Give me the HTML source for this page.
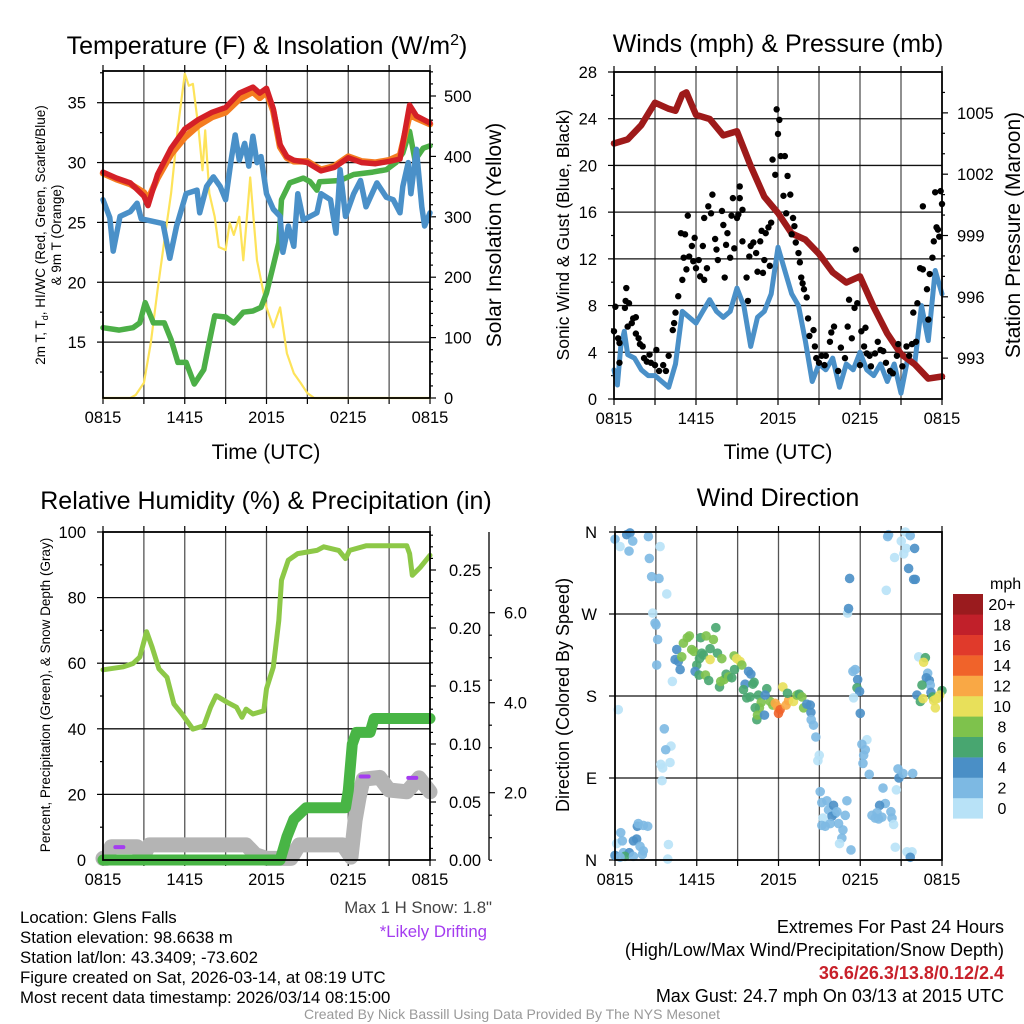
<!DOCTYPE html>
<html><head><meta charset="utf-8"><style>
html,body{margin:0;padding:0;background:#fff;}
svg{display:block;font-family:"Liberation Sans",Arial,sans-serif;}
</style></head><body>
<svg id="chart" width="1024" height="1024" viewBox="0 0 1024 1024" xmlns="http://www.w3.org/2000/svg">
<rect width="1024" height="1024" fill="#fff"/>
<text x="267" y="54" font-size="25" text-anchor="middle">Temperature (F) &amp; Insolation (W/m<tspan dy="-9" font-size="16">2</tspan><tspan dy="9">)</tspan></text>
<text x="778" y="52" font-size="25" text-anchor="middle">Winds (mph) &amp; Pressure (mb)</text>
<text x="266" y="509" font-size="25" text-anchor="middle">Relative Humidity (%) &amp; Precipitation (in)</text>
<text x="778" y="506" font-size="25" text-anchor="middle">Wind Direction</text>
<text x="266" y="459" font-size="21" text-anchor="middle">Time (UTC)</text>
<text x="778" y="459" font-size="21" text-anchor="middle">Time (UTC)</text>
<text transform="translate(45,235) rotate(-90)" font-size="13.5" text-anchor="middle">2m T, T<tspan dy="3" font-size="9">d</tspan><tspan dy="-3">, HI/WC (Red, Green, Scarlet/Blue)</tspan></text>
<text transform="translate(61,235) rotate(-90)" font-size="13.5" text-anchor="middle">&amp; 9m T (Orange)</text>
<text transform="translate(501,235) rotate(-90)" font-size="21" text-anchor="middle">Solar Insolation (Yellow)</text>
<text transform="translate(569,235) rotate(-90)" font-size="17.5" text-anchor="middle">Sonic Wind &amp; Gust (Blue, Black)</text>
<text transform="translate(1020,235) rotate(-90)" font-size="21" text-anchor="middle">Station Pressure (Maroon)</text>
<text transform="translate(50,695) rotate(-90)" font-size="13.5" text-anchor="middle">Percent, Precipitation (Green), &amp; Snow Depth (Gray)</text>
<text transform="translate(569,695) rotate(-90)" font-size="18" text-anchor="middle">Direction (Colored By Speed)</text>
<text x="990" y="589" font-size="16">mph</text>
<g font-size="16.8">
<text x="20" y="923">Location: Glens Falls</text>
<text x="20" y="943">Station elevation: 98.6638 m</text>
<text x="20" y="963">Station lat/lon: 43.3409; -73.602</text>
<text x="20" y="983">Figure created on Sat, 2026-03-14, at 08:19 UTC</text>
<text x="20" y="1003">Most recent data timestamp: 2026/03/14 08:15:00</text>
</g>
<text x="492" y="913" font-size="16.8" text-anchor="end" fill="#444">Max 1 H Snow: 1.8"</text>
<text x="487" y="937" font-size="16.8" text-anchor="end" fill="#a43cf0">*Likely Drifting</text>
<g font-size="18" text-anchor="end">
<text x="1004" y="933">Extremes For Past 24 Hours</text>
<text x="1004" y="956">(High/Low/Max Wind/Precipitation/Snow Depth)</text>
<text x="1004" y="979" font-weight="bold" fill="#c8202a">36.6/26.3/13.8/0.12/2.4</text>
<text x="1004" y="1002">Max Gust: 24.7 mph On 03/13 at 2015 UTC</text>
</g>
<text x="512" y="1019" font-size="14" text-anchor="middle" fill="#999">Created By Nick Bassill Using Data Provided By The NYS Mesonet</text>
</svg>
<script>
// ---------- data ----------
const timeTickHours = [0, 6, 12, 18, 24];
const timeTickLabels = ['0815', '1415', '2015', '0215', '0815'];

const tempHours = [0,1,2,3,3.3,4,5,6,7,8,9,10,11,11.5,12,12.5,13,13.5,14,15,16,17,18,19,20,21,21.8,22.5,23,24];
const tempRed = [29.2,28.7,28.3,27.2,26.4,29.0,31.2,32.8,33.6,34.2,34.6,35.8,36.3,35.8,36.2,34.5,31.5,30.5,30.2,30.0,29.3,29.6,30.4,30.0,29.9,30.1,30.3,34.8,33.9,33.3];
const tempOrange = [29.1,28.6,28.2,27.5,26.9,28.7,30.7,32.1,33.1,33.8,34.2,35.3,35.9,35.4,35.9,34.3,31.3,30.4,30.1,30.1,29.4,29.7,30.5,30.1,30.0,30.2,30.6,34.0,33.7,33.2];
const hiwcHours = [0,0.5,0.75,1.25,2,2.5,2.8,4.4,4.9,5.4,6.1,6.9,7.1,7.6,8.1,8.6,9.0,9.4,9.7,10.0,10.4,10.7,11.0,11.3,11.6,12.0,12.5,13.0,13.2,13.6,14.0,14.3,14.7,15.7,16.0,16.7,17.1,17.4,17.8,18.4,18.9,19.3,20.1,20.8,21.3,21.8,22.0,22.4,22.6,23.0,23.4,23.6,24];
const hiwcValues = [26.9,25.4,22.6,25.5,25.9,26.6,25.3,24.9,22.0,24.7,27.4,27.7,25.8,28.0,28.8,28.0,26.9,30.2,32.3,30.2,31.6,29.7,32.2,30.0,30.5,27.4,26.1,25.5,22.5,24.7,23.0,27.4,25.2,25.8,27.4,26.9,24.1,29.4,25.5,27.4,28.5,26.3,28.3,27.1,26.9,25.8,28.0,30.0,27.4,31.1,26.3,24.7,25.8];
const dewHours = [0,1.2,2.2,2.7,3.1,3.7,4.5,5.0,5.5,6.1,6.7,7.4,7.8,8.2,9.0,9.6,10.3,11.0,11.6,12.0,12.5,12.9,13.1,13.7,14.7,15.2,15.7,15.9,17.4,18.4,19.8,20.8,21.5,22.0,22.5,22.9,23.5,24];
const dewValues = [16.2,16.0,16.2,16.6,18.3,16.6,16.6,15.2,13.3,13.3,11.5,12.7,15.0,17.2,17.1,16.6,17.5,17.6,17.9,19.1,21.4,23.3,26.9,28.3,28.7,28.4,27.7,28.4,28.5,29.0,29.2,29.4,30.0,30.8,32.6,30.2,31.2,31.4];
const solarHours = [0,2,2.4,3,3.5,4,4.5,5,5.5,6,6.3,6.6,7,7.3,7.5,7.8,8.2,8.5,9,9.3,9.6,10,10.3,10.8,11.3,12,12.5,13,13.5,14,14.5,15,15.5,24];
const solarValues = [0,0,5,25,90,178,260,339,448,537,517,520,448,377,443,339,300,250,245,290,270,300,228,365,228,150,117,150,74,41,25,8,0,0];

const pressHours = [0,1,2,3,4,4.5,5,5.3,6,7,8,9,10,11,12,13,14,15,16,17,18,19,20,21,22,23,24];
const pressValues = [1003.5,1003.7,1004.4,1005.5,1005.2,1005.1,1005.9,1006.0,1004.9,1004.7,1003.9,1004.1,1002.4,1000.9,1000.1,999.1,998.8,998.1,997.2,996.7,997.0,995.5,994.2,993.2,992.7,992.0,992.1];
const windHours = [0,0.25,0.5,0.75,1,1.5,2,2.5,3,3.5,4,4.5,5,5.5,6,6.5,7,7.5,8,8.5,9,9.5,10,10.5,11,11.5,12,12.5,13,13.5,14,14.5,15,15.5,16,16.5,17,17.5,18,18.5,19,19.5,20,20.5,21,21.5,22,22.5,23,23.5,24];
const windValues = [2.5,1.2,4.5,5.8,3.8,3.5,2.5,2.0,2.0,1.5,1.0,3.0,7.5,7.0,6.5,7.5,8.5,7.5,7.0,7.5,9.5,8.0,4.5,7.0,7.5,9.0,13.0,11.0,9.0,8.0,5.0,1.5,3.0,2.5,3.5,1.0,3.0,2.5,4.0,2.5,2.0,3.0,1.5,3.0,0.5,3.5,3.0,8.0,5.0,11.0,9.0];
const gustHours = [0,0.1,0.3,0.4,0.4,0.8,0.85,0.9,1.1,1.0,1.3,1.4,1.6,1.6,1.8,1.9,2.1,2.2,2.4,2.6,2.7,3.0,3.1,3.3,3.6,3.8,4.0,4.3,4.4,4.5,4.7,4.9,5.0,5.1,5.2,5.3,5.4,5.5,5.7,5.8,5.9,6.0,6.2,6.3,6.5,6.6,6.6,6.8,6.9,7.1,7.2,7.4,7.5,7.6,7.9,8.0,8.1,8.2,8.3,8.5,8.6,8.7,8.8,9.0,9.1,9.2,9.2,9.4,9.4,9.7,9.8,9.9,10.0,10.2,10.4,10.5,10.7,10.8,10.9,11.0,11.1,11.3,11.4,11.5,11.6,11.8,11.9,12.0,12.1,12.2,12.4,12.5,12.6,12.7,12.9,13.0,13.1,13.2,13.3,13.5,13.6,13.7,13.8,13.9,14.1,14.2,14.3,14.6,14.7,14.8,15.0,15.2,15.4,15.5,15.8,15.9,16.1,16.4,16.6,16.9,17.1,17.2,17.4,17.6,17.7,17.8,18.0,18.1,18.3,18.4,18.5,18.7,18.8,19.1,19.3,19.5,19.7,19.9,20.2,20.4,20.7,20.8,21.1,21.4,21.6,21.8,21.9,22.1,22.2,22.4,22.6,22.6,22.9,23.0,23.1,23.3,23.4,23.5,23.6,23.7,23.8,24.0,23.9];
const gustValues = [5.8,7.9,5.2,4.8,3.1,7.8,8.4,9.5,8.2,6.2,6.5,6.9,5.6,7.0,5.2,4.7,4.5,3.5,3.2,3.8,3.1,2.9,4.2,2.4,2.9,2.4,3.7,5.9,6.5,7.4,8.8,14.2,10.2,12.1,14.1,11.1,15.7,12.2,13.1,11.8,13.8,11.2,11.9,10.5,13.1,10.2,15.5,11.2,16.5,15.9,17.5,13.7,12.8,11.9,16.1,14.9,10.4,13.2,14.2,12.1,15.7,17.2,12.9,15.5,15.8,17.2,18.2,16.2,13.5,10.4,8.4,12.2,13.1,13.4,12.5,10.9,13.5,14.4,10.8,11.9,14.2,14.7,11.4,15.1,20.5,19.2,24.8,22.7,23.9,20.8,17.4,20.8,15.9,19.1,17.5,14.1,15.5,14.8,13.4,12.5,11.7,10.4,9.9,9.4,8.7,6.9,5.4,5.9,4.5,3.5,3.1,3.7,2.9,3.7,4.9,5.7,6.2,2.4,4.4,3.5,6.2,8.5,5.2,7.8,12.8,8.2,2.9,5.8,4.5,6.1,3.9,3.7,2.8,3.9,4.9,4.2,4.1,3.1,2.4,2.2,3.7,4.7,2.8,4.5,3.7,4.7,7.4,4.9,8.2,11.2,16.5,11.1,9.4,6.8,10.7,12.1,13.5,17.7,14.7,14.5,13.9,16.7,17.8];

const rhHours = [0,1.5,2.2,2.7,3.2,3.6,4.1,4.7,5.2,5.8,6.6,7.4,7.9,8.3,9.1,9.8,10.2,10.5,11.0,11.8,12.0,12.5,12.9,13.1,13.6,14.3,15.7,16.2,17.3,17.8,18.1,19.3,22.3,22.5,22.7,23.3,24];
const rhValues = [58,58.9,59.9,61.9,69.6,64.9,58.3,55.7,47.6,44.5,39.9,40.9,46.6,50.1,48.1,46.6,43.5,46,44.5,45.5,52.2,58.8,73,85.3,91.4,93.4,94.4,95.5,94.4,91.9,94.4,95.8,95.8,93.4,86.8,89.3,92.9];
const precipHours = [0,13,13.5,14,14.9,17.8,18.0,18.3,18.6,19.6,19.9,24];
const precipValues = [0,0,0.02,0.035,0.045,0.045,0.06,0.10,0.11,0.11,0.122,0.122];
const snowHours = [0,0.3,0.6,2.5,2.7,3.1,3.4,10.5,11.2,12,13.8,14.4,17.6,18.2,18.5,18.8,19.1,20.3,21,22.3,23.2,24];
const snowValues = [0.54,0.54,0.8,0.8,0.67,0.67,0.84,0.84,0.62,0.54,0.54,0.84,0.84,0.57,1.39,1.91,2.3,2.34,2.06,2.02,2.33,2.02];
const driftHours = [1.2,19.2,22.7];
const driftValues = [0.79,2.36,2.33];

const dirHours = [0,0.37,0.86,1.10,1.30,1.03,2.45,3.31,2.52,2.69,3.23,3.80,2.77,2.94,3.01,3.13,3.06,4.21,0.24,3.62,4.11,3.72,3.36,3.50,4.04,3.45,3.92,3.87,0.42,0.12,0.54,1.35,1.59,1.64,1.71,2.08,2.40,1.84,2.08,2.01,0.61,1.05,0.0,0.73,0.37,1.35,
4.53,4.41,4.65,4.78,4.90,5.02,5.31,5.46,5.63,5.80,6.00,6.20,5.88,6.29,6.37,6.49,6.17,6.69,6.98,7.22,7.40,7.52,7.84,6.98,6.64,6.88,7.67,7.76,8.01,8.16,8.33,8.57,8.74,8.94,9.18,9.31,8.77,9.80,9.97,9.55,9.43,10.12,10.21,9.67,9.92,10.53,10.73,11.14,11.39,11.58,10.60,10.29,10.41,10.46,10.97,11.02,11.76,11.93,12.12,12.00,12.32,12.56,12.74,12.66,13.10,13.35,13.52,13.72,13.84,14.08,14.33,14.38,14.40,14.57,14.74,14.99,14.89,
15.06,15.18,15.55,15.67,16.04,16.16,15.92,16.29,16.90,17.02,16.73,15.26,15.18,15.43,15.80,16.41,16.65,16.48,17.32,17.07,17.14,17.22,17.46,17.63,17.81,17.76,17.95,17.51,18.00,18.49,18.12,18.37,18.25,18.20,18.66,19.67,19.84,19.42,19.23,18.86,19.10,19.35,19.59,20.25,20.33,20.45,20.65,20.84,20.77,21.14,21.85,20.57,20.01,20.08,21.31,21.67,21.01,21.38,21.19,20.52,21.99,21.55,21.92,22.04,19.91,21.43,21.80,21.67,
22.29,22.78,22.65,22.95,22.85,23.07,23.14,22.53,23.19,22.16,22.41,22.61,23.32,23.51,23.63,24.00,23.83,23.51,23.39];
const dirValues = [352,344,357,359,350,339,355,344,331,311,309,292,271,260,258,242,214,196,165,144,125,121,105,101,107,87,17,1,30,18,21,21,23,37,40,38,37,15,10,6,8,8,5,4,3,4,
231,220,218,209,223,238,244,246,231,229,214,221,207,244,227,225,203,246,232,242,255,227,221,220,203,197,190,196,198,204,201,200,224,221,218,214,209,207,204,193,187,193,195,178,179,181,173,188,174,170,167,167,154,159,159,181,172,168,165,161,190,170,175,183,174,181,182,179,167,171,170,162,154,148,135,115,109,
75,63,65,55,60,51,48,53,49,65,33,46,38,37,40,40,24,18,11,271,276,309,207,209,198,189,185,178,161,132,127,121,115,106,94,79,62,60,52,49,46,45,47,53,46,39,77,90,100,95,95,14,355,357,360,356,350,342,336,332,342,320,308,308,296,9,9,3,
223,222,217,205,200,197,192,192,184,181,174,177,179,177,177,186,181,167,175];
const dirSpeeds = [3,1,5,5,3,3,3,1,3,3,3,1,1,3,3,3,3,1,1,3,1,3,1,1,1,1,1,1,3,1,3,5,5,5,3,3,3,3,3,3,3,5,5,7,3,3,
5,5,5,5,9,9,9,9,9,9,7,7,5,7,7,7,7,9,7,9,7,7,9,11,9,7,7,9,9,7,9,7,9,11,11,9,7,5,5,5,7,7,7,7,7,7,9,7,9,9,9,7,7,9,5,5,13,13,15,15,11,13,13,7,11,9,7,9,9,5,5,5,3,3,3,1,1,
3,3,3,3,5,3,5,3,3,3,3,1,3,3,3,3,3,1,3,1,5,5,3,3,5,7,5,1,5,1,3,3,3,3,3,3,3,5,3,3,3,3,3,3,3,1,1,5,3,3,3,1,3,3,1,3,1,1,1,1,5,5,5,5,1,1,1,5,
1,7,11,3,5,5,3,7,5,5,7,11,7,9,11,7,11,11,11];

const speedBinLabels = ['0','2','4','6','8','10','12','14','16','18','20+'];
const speedBinColors = ['#b8e2f7','#7db9e3','#4a8fc6','#48a670','#7ec24c','#e8e05a','#f9a845','#f0632a','#e03a2b','#c1202a','#9a1b1e'];

// ---------- helpers ----------
const NS = 'http://www.w3.org/2000/svg';
const svg = document.getElementById('chart');
const TICK_FS = 16.5;
function add(tag, attrs, parent) {
  const e = document.createElementNS(NS, tag);
  for (const k in attrs) e.setAttribute(k, attrs[k]);
  (parent || svg).appendChild(e);
  return e;
}
function group(name) {
  const g = add('g', {});
  
  
  return g;
}
function linear(d0, d1, r0, r1) { return v => r0 + (v - d0) * (r1 - r0) / (d1 - d0); }
function pathD(xs, ys, xf, yf) {
  return xs.map((h, i) => (i ? 'L' : 'M') + xf(h).toFixed(1) + ',' + yf(ys[i]).toFixed(1)).join('');
}
function drawLine(parent, name, xs, ys, xf, yf, color, w, extra) {
  const p = add('path', Object.assign({d: pathD(xs, ys, xf, yf), fill: 'none', stroke: color, 'stroke-width': w, 'stroke-linejoin': 'round', 'stroke-linecap': 'round'}, extra || {}), parent);
  
  
  return p;
}

function frame(P, name, hGrid, yf) {
  const g = group(name + '-axes');
  const xf = linear(0, 24, P.x0, P.x1);
  for (let h = 3; h < 24; h += 3) {
    const l = add('line', {x1: xf(h), x2: xf(h), y1: P.y0, y2: P.y1, stroke: '#555', 'stroke-width': 1.3}, g);
    
    
  }
  hGrid.forEach(v => {
    const l = add('line', {x1: P.x0, x2: P.x1, y1: yf(v), y2: yf(v), stroke: '#111', 'stroke-width': 1.3}, g);
    
    
  });
  for (let h = 0; h <= 24; h += 3) {
    const t = add('line', {x1: xf(h), x2: xf(h), y1: P.y1, y2: P.y1 + 6, stroke: '#000', 'stroke-width': 1.2}, g);
    
    
    const t2 = add('line', {x1: xf(h), x2: xf(h), y1: P.y0, y2: P.y0 - 6, stroke: '#000', 'stroke-width': 1.2}, g);
    
    
  }
  timeTickHours.forEach((h, i) => {
    const t = add('text', {x: xf(h), y: P.y1 + 25, 'font-size': TICK_FS, 'text-anchor': 'middle'}, g);
    t.textContent = timeTickLabels[i];
    
    
  });
  return {g, xf};
}
function border(P, name) {
  const r = add('rect', {x: P.x0, y: P.y0, width: P.x1 - P.x0, height: P.y1 - P.y0, fill: 'none', stroke: '#000', 'stroke-width': 1.8});
  
  
}
function yAxis(parent, x, vals, yf, labels, side, major, lblX) {
  vals.forEach((v, i) => {
    const len = major[i] ? 6 : 3;
    const t = add('line', {x1: x, x2: x + (side === 'left' ? -len : len), y1: yf(v), y2: yf(v), stroke: '#000', 'stroke-width': 1.2}, parent);
    
    
    if (labels[i] !== '') {
      const tx = add('text', {x: lblX, y: yf(v) + 6, 'font-size': TICK_FS, 'text-anchor': side === 'left' ? 'end' : 'start'}, parent);
      tx.textContent = labels[i];
      
      
    }
  });
}

// ---------- Panel 1 ----------
const P1 = {x0: 103, x1: 430, y0: 71, y1: 398};
const yT = linear(35, 15, 102.7, 342.1);
const yS = linear(0, 500, 398, 96);
const f1 = frame(P1, 'temp', [15, 20, 25, 30, 35], yT);
{
  const v = [], l = [], m = [];
  for (let t = 12.5; t <= 37.5; t += 2.5) { v.push(t); m.push(t % 5 === 0); l.push(t % 5 === 0 ? String(t) : ''); }
  yAxis(f1.g, P1.x0, v, yT, l, 'left', m, 86);
  const sv = [], sl = [], sm = [];
  for (let s = 0; s <= 540; s += 20) { sv.push(s); sm.push(s % 100 === 0); sl.push(s % 100 === 0 ? String(s) : ''); }
  yAxis(f1.g, P1.x1, sv, yS, sl, 'right', sm, 444);
}
const s1 = group('temp-series');
drawLine(s1, 'solar-insolation-line', solarHours, solarValues, f1.xf, yS, '#fde35a', 2.2);
drawLine(s1, 'dewpoint-line', dewHours, dewValues, f1.xf, yT, '#4caf47', 5.5);
drawLine(s1, 'hi-wc-line', hiwcHours, hiwcValues, f1.xf, yT, '#4a90c8', 5.5);
drawLine(s1, 'temp-9m-line', tempHours, tempOrange, f1.xf, yT, '#f47c20', 6.5);
drawLine(s1, 'temp-2m-line', tempHours, tempRed, f1.xf, yT, '#d42027', 5.5);
border(P1, 'temp');

// ---------- Panel 2 ----------
const P2 = {x0: 614, x1: 942, y0: 72, y1: 399};
const yW = linear(0, 28, 399, 72);
const yP = linear(991, 1007, 399, 72);
const f2 = frame(P2, 'wind', [4, 8, 12, 16, 20, 24], yW);
{
  const v = [], l = [], m = [];
  for (let t = 0; t <= 28; t += 2) { v.push(t); m.push(t % 4 === 0); l.push(t % 4 === 0 ? String(t) : ''); }
  yAxis(f2.g, P2.x0, v, yW, l, 'left', m, 597);
  const pv = [], pl = [], pm = [];
  for (let p = 992; p <= 1006; p++) { pv.push(p); pm.push(p % 3 === 0); pl.push(p % 3 === 0 ? String(p) : ''); }
  yAxis(f2.g, P2.x1, pv, yP, pl, 'right', pm, 957);
}
const s2 = group('wind-series');
drawLine(s2, 'sonic-wind-line', windHours, windValues, f2.xf, yW, '#4a90c8', 5);
drawLine(s2, 'pressure-line', pressHours, pressValues, f2.xf, yP, '#9e1a1a', 6.5);
gustHours.forEach((h, i) => {
  const c = add('circle', {cx: f2.xf(h), cy: yW(gustValues[i]), r: 3.2, fill: '#000'}, s2);
  
  
});
border(P2, 'wind');

// ---------- Panel 3 ----------
const P3 = {x0: 103, x1: 430, y0: 532, y1: 860};
const yR = linear(0, 100, 860, 532);
const yPr = linear(0, 0.25, 860, 570);
const ySn = linear(2, 4, 792.7, 702.7);
const f3 = frame(P3, 'rh', [20, 40, 60, 80], yR);
{
  const v = [], l = [], m = [];
  for (let t = 0; t <= 100; t += 10) { v.push(t); m.push(t % 20 === 0); l.push(t % 20 === 0 ? String(t) : ''); }
  yAxis(f3.g, P3.x0, v, yR, l, 'left', m, 86);
  const pv = [], pl = [], pm = [];
  for (let k = 0; k <= 28; k++) { const p = k / 100; pv.push(p); pm.push(k % 5 === 0); pl.push(k % 5 === 0 ? p.toFixed(2) : ''); }
  yAxis(f3.g, P3.x1, pv, yPr, pl, 'right', pm, 449);
  const ax = add('line', {x1: 489, x2: 489, y1: 532, y2: 860, stroke: '#000', 'stroke-width': 1.3}, f3.g);
  
  
  const sv = [], sl = [], sm = [];
  for (let k = 0; k <= 14; k++) { const s = k / 2; const yy = ySn(s); if (yy > 861 || yy < 532) continue; sv.push(s); sm.push(k % 4 === 0); sl.push(k % 4 === 0 && k > 0 ? s.toFixed(1) : ''); }
  yAxis(f3.g, 489, sv, ySn, sl, 'right', sm, 504);
}
const s3 = group('rh-series');
drawLine(s3, 'rh-line', rhHours, rhValues, f3.xf, yR, '#8dc847', 5);
drawLine(s3, 'snow-depth-line', snowHours, snowValues, f3.xf, ySn, '#b4b4b4', 15);
drawLine(s3, 'precip-line', precipHours, precipValues, f3.xf, yPr, '#48b545', 11);
driftHours.forEach((h, i) => {
  const d = add('line', {x1: f3.xf(h) - 4, x2: f3.xf(h) + 4, y1: ySn(driftValues[i]), y2: ySn(driftValues[i]), stroke: '#a43cf0', 'stroke-width': 4, 'stroke-linecap': 'round'}, s3);
  
  
});
border(P3, 'rh');

// ---------- Panel 4 ----------
const P4 = {x0: 615, x1: 942, y0: 532, y1: 860};
const yD = linear(0, 360, 860, 532);
const f4 = frame(P4, 'direction', [90, 180, 270], yD);
yAxis(f4.g, P4.x0, [0, 90, 180, 270, 360], yD, ['N', 'E', 'S', 'W', 'N'], 'left', [1, 1, 1, 1, 1], 597);
const s4 = group('direction-series');
function speedColor(s) { return speedBinColors[Math.min(10, Math.floor(s / 2))]; }
dirHours.forEach((h, i) => {
  const c = add('circle', {cx: f4.xf(h), cy: yD(dirValues[i]), r: 4.8, fill: speedColor(dirSpeeds[i]), 'fill-opacity': 0.9}, s4);
  
  
});
border(P4, 'direction');

// colorbar
const cb = group('speed-colorbar');
speedBinColors.forEach((col, i) => {
  const y = 594 + (10 - i) * 20.4;
  const r = add('rect', {x: 953, y: y, width: 30, height: 20.6, fill: col}, cb);
  
  
  const t = add('text', {x: 1002, y: y + 16, 'font-size': 16, 'text-anchor': 'middle'}, cb);
  t.textContent = speedBinLabels[i];
  
  
});
</script>
</body></html>
